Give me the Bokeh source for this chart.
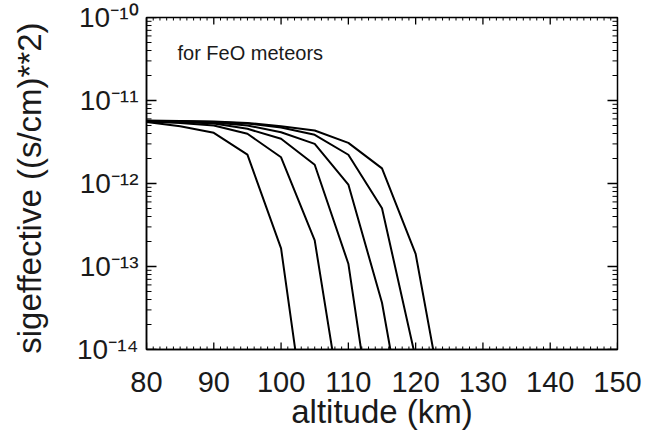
from bokeh.plotting import figure
from bokeh.models import (Range1d, FixedTicker, Label, CustomJSTickFormatter)
from bokeh.embed import file_html
from bokeh.resources import INLINE

# ---- data ----
altitude = [80, 85, 90, 95, 100, 105, 110, 115, 120, 125]

sig_a = [5.5e-12, 4.9e-12, 4.08e-12, 2.23e-12, 1.65e-13, 2.1e-16]
sig_b = [5.58e-12, 5.36e-12, 5.0e-12, 3.97e-12, 2.07e-12, 2.06e-13, 6.2e-16]
sig_c = [5.58e-12, 5.5e-12, 5.28e-12, 4.56e-12, 3.46e-12, 1.68e-12, 1.08e-13, 2.0e-16]
sig_d = [5.66e-12, 5.58e-12, 5.43e-12, 5.0e-12, 4.15e-12, 3.0e-12, 9.7e-13, 3.66e-14, 2.0e-16]
sig_e = [5.66e-12, 5.62e-12, 5.5e-12, 5.28e-12, 4.73e-12, 3.86e-12, 2.22e-12, 5.04e-13, 7.8e-15]
sig_f = [5.74e-12, 5.66e-12, 5.58e-12, 5.36e-12, 4.9e-12, 4.35e-12, 3.09e-12, 1.52e-12, 1.42e-13, 8.7e-16]
series = [sig_a, sig_b, sig_c, sig_d, sig_e, sig_f]

x_ticks = [80, 90, 100, 110, 120, 130, 140, 150]
x_minor = [v for v in range(80, 151) if v % 10]
y_ticks = [1e-14, 1e-13, 1e-12, 1e-11, 1e-10]
y_tick_labels = ["10\u207b\u00b9\u2074", "10\u207b\u00b9\u00b3", "10\u207b\u00b9\u00b2",
                 "10\u207b\u00b9\u00b9", "10\u207b\u00b9\u2070"]
y_minor = [k * t for t in y_ticks[:-1] for k in range(2, 10)]

X0, X1 = x_ticks[0], x_ticks[-1]
Y0, Y1 = y_ticks[0], y_ticks[-1]

FONT = "Liberation Sans"

p = figure(width=657, height=433, y_axis_type="log",
           x_range=Range1d(X0, X1), y_range=Range1d(Y0, Y1),
           output_backend="svg", toolbar_location=None,
           min_border_left=146, min_border_right=40,
           min_border_top=17, min_border_bottom=84)
p.grid.visible = False
p.outline_line_color = "black"
p.outline_line_width = 1.5
p.background_fill_color = "white"
p.border_fill_color = "white"

for s in series:
    p.line(altitude[:len(s)], s, line_color="black", line_width=2)

# inward tick marks on all four sides (axis ticks drawn inside the frame)
def ticks_x(xs, y, angle, length, width):
    p.ray(x=xs, y=[y] * len(xs), length=length, angle=angle, angle_units="deg",
          length_units="screen", line_color="black", line_width=width)

def ticks_y(ys, x, angle, length, width):
    p.ray(x=[x] * len(ys), y=ys, length=length, angle=angle, angle_units="deg",
          length_units="screen", line_color="black", line_width=width)

ticks_x(x_ticks, Y0, 90, 7, 1.3)
ticks_x(x_minor, Y0, 90, 3, 1)
ticks_x(x_ticks, Y1, -90, 7, 1.3)
ticks_x(x_minor, Y1, -90, 3, 1)
ticks_y(y_ticks, X0, 0, 10, 1.3)
ticks_y(y_minor, X0, 0, 5, 1)
ticks_y(y_ticks, X1, 180, 10, 1.3)
ticks_y(y_minor, X1, 180, 5, 1)

fmt = CustomJSTickFormatter(args=dict(tv=y_ticks, lb=y_tick_labels), code="""
let best = 0, bd = 1e9;
for (let i = 0; i < tv.length; i++) {
  const d = Math.abs(Math.log10(tv[i]) - Math.log10(tick));
  if (d < bd) { bd = d; best = i; }
}
return lb[best];
""")

def style(ax):
    ax.axis_line_color = "black"
    ax.axis_line_width = 1.5
    ax.major_tick_in = 0
    ax.major_tick_out = 0
    ax.minor_tick_in = 0
    ax.minor_tick_out = 0
    ax.major_label_text_font = FONT
    ax.axis_label_text_font = FONT
    ax.axis_label_text_font_style = "normal"
    ax.major_label_text_color = "#1a1a1a"
    ax.axis_label_text_color = "#1a1a1a"

xa = p.xaxis[0]
xa.ticker = FixedTicker(ticks=x_ticks, minor_ticks=x_minor)
style(xa)
xa.major_label_text_font_size = "29px"
xa.major_label_standoff = 22
xa.axis_label = "altitude (km)"
xa.axis_label_text_font_size = "33px"
xa.axis_label_standoff = -2

ya = p.yaxis[0]
ya.ticker = FixedTicker(ticks=y_ticks, minor_ticks=y_minor)
ya.formatter = fmt
style(ya)
ya.major_label_text_font_size = "28px"
ya.major_label_standoff = 8
ya.axis_label = "sigeffective  ((s/cm)**2)"
ya.axis_label_text_font_size = "33px"
ya.axis_label_standoff = 26

p.add_layout(Label(x=84.6, y=3.7e-11, text="for FeO meteors", text_font=FONT,
                   text_font_size="20px", text_color="#1a1a1a",
                   text_baseline="alphabetic"))

open("out.html", "w").write(file_html(p, INLINE))
